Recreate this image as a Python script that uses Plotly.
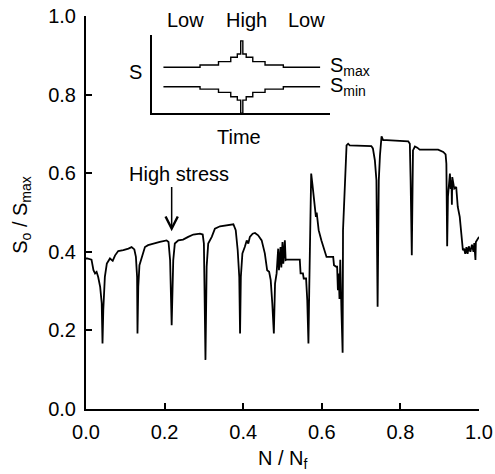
import plotly.graph_objects as go

# Main curve: fraction of life N/Nf vs normalized opening stress So/Smax
n_ratio = [0.000, 0.003, 0.014, 0.019, 0.023, 0.027, 0.031, 0.036, 0.040, 0.042, 0.044, 0.048, 0.053,
           0.061, 0.068, 0.074, 0.082, 0.095, 0.108, 0.116, 0.123, 0.127, 0.130, 0.131, 0.133, 0.136,
           0.140, 0.146, 0.150, 0.158, 0.171, 0.188, 0.205, 0.210, 0.214, 0.218, 0.222, 0.226, 0.235,
           0.247, 0.260, 0.273, 0.290, 0.297, 0.300, 0.304, 0.307, 0.311, 0.320, 0.328, 0.341, 0.358,
           0.375, 0.381, 0.386, 0.390, 0.392, 0.394, 0.398, 0.404, 0.409, 0.413, 0.417, 0.424, 0.430,
           0.438, 0.447, 0.455, 0.461, 0.466, 0.470, 0.474, 0.478, 0.481, 0.485, 0.489, 0.491, 0.495,
           0.497, 0.500, 0.502, 0.506, 0.508, 0.510, 0.544, 0.546, 0.552, 0.554, 0.560, 0.563, 0.566,
           0.568, 0.570, 0.573, 0.576, 0.580, 0.585, 0.587, 0.589, 0.592, 0.599, 0.612, 0.629, 0.631,
           0.637, 0.639, 0.641, 0.643, 0.645, 0.647, 0.650, 0.653, 0.654, 0.659, 0.663, 0.667, 0.671,
           0.726, 0.730, 0.735, 0.739, 0.742, 0.745, 0.748, 0.752, 0.756, 0.765, 0.820, 0.824, 0.826,
           0.829, 0.832, 0.837, 0.843, 0.849, 0.896, 0.909, 0.915, 0.917, 0.919, 0.921, 0.926, 0.928,
           0.930, 0.931, 0.932, 0.937, 0.942, 0.946, 0.951, 0.957, 0.959, 0.962, 0.965, 0.968, 0.971,
           0.974, 0.978, 0.982, 0.986, 0.988, 0.991, 0.992, 0.996, 1.000]
so_ratio = [0.383, 0.383, 0.380, 0.353, 0.345, 0.349, 0.336, 0.311, 0.269, 0.167, 0.252, 0.336, 0.370,
            0.383, 0.377, 0.391, 0.402, 0.404, 0.408, 0.412, 0.406, 0.387, 0.336, 0.192, 0.311, 0.366,
            0.379, 0.396, 0.412, 0.417, 0.421, 0.425, 0.429, 0.425, 0.379, 0.213, 0.379, 0.421, 0.429,
            0.431, 0.438, 0.444, 0.446, 0.444, 0.421, 0.125, 0.362, 0.421, 0.438, 0.459, 0.465, 0.468,
            0.470, 0.455, 0.404, 0.336, 0.192, 0.336, 0.396, 0.412, 0.429, 0.421, 0.438, 0.446, 0.448,
            0.442, 0.429, 0.396, 0.353, 0.349, 0.328, 0.269, 0.192, 0.319, 0.345, 0.408, 0.353, 0.412,
            0.360, 0.425, 0.370, 0.429, 0.379, 0.380, 0.380, 0.345, 0.345, 0.332, 0.332, 0.277, 0.167,
            0.300, 0.463, 0.599, 0.573, 0.531, 0.489, 0.500, 0.480, 0.455, 0.429, 0.387, 0.387, 0.366,
            0.362, 0.362, 0.302, 0.345, 0.280, 0.380, 0.250, 0.143, 0.455, 0.582, 0.671, 0.675, 0.671,
            0.669, 0.663, 0.633, 0.582, 0.260, 0.582, 0.645, 0.694, 0.684, 0.684, 0.681, 0.675, 0.582,
            0.391, 0.658, 0.668, 0.665, 0.660, 0.660, 0.654, 0.648, 0.624, 0.414, 0.540, 0.599, 0.560,
            0.582, 0.520, 0.590, 0.561, 0.565, 0.514, 0.489, 0.408, 0.404, 0.408, 0.395, 0.412, 0.395,
            0.414, 0.400, 0.418, 0.400, 0.422, 0.379, 0.425, 0.433, 0.438]

tick_vals = [0.0, 0.2, 0.4, 0.6, 0.8, 1.0]
tick_text = ["0.0", "0.2", "0.4", "0.6", "0.8", "1.0"]

# Inset schematic: block loading sequence Low-High-Low
inset_time = [0.062, 0.268, 0.372, 0.441, 0.478, 0.497, 0.509, 0.528, 0.565, 0.634, 0.737, 0.944]
inset_smax = [0.587, 0.617, 0.660, 0.715, 0.757, 0.923, 0.757, 0.715, 0.660, 0.617, 0.587, 0.587]
inset_smin = [0.340, 0.310, 0.268, 0.212, 0.170, 0.004, 0.170, 0.212, 0.268, 0.310, 0.340, 0.340]

FONT = "Liberation Sans, Arial, Helvetica, sans-serif"
FS = 20

fig = go.Figure()
fig.add_trace(go.Scatter(x=n_ratio, y=so_ratio, mode="lines",
                         line=dict(color="black", width=1.8), showlegend=False))
for s in (inset_smax, inset_smin):
    fig.add_trace(go.Scatter(x=inset_time, y=s, mode="lines", line_shape="hv",
                             line=dict(color="black", width=1.4), showlegend=False,
                             xaxis="x2", yaxis="y2"))

axis_common = dict(range=[0, 1], showgrid=False, zeroline=False, showline=True,
                   linecolor="black", linewidth=2, ticks="inside", ticklen=6, tickwidth=2,
                   tickcolor="black", tickvals=tick_vals, ticktext=tick_text, automargin=False,
                   ticklabeloverflow="allow",
                   tickfont=dict(family=FONT, size=FS, color="black"))

fig.update_layout(
    template="none",
    width=495, height=474,
    margin=dict(l=86, r=16, t=16, b=65),
    paper_bgcolor="white", plot_bgcolor="white",
    font=dict(family=FONT, size=FS, color="black"),
    xaxis=dict(**axis_common, ticklabelstandoff=4),
    yaxis=dict(**axis_common, ticklabelstandoff=4),
    xaxis2=dict(domain=[0.169, 0.621], anchor="y2", range=[0, 1], showgrid=False,
                zeroline=False, showline=True, linecolor="black", linewidth=1.5,
                showticklabels=False, ticks="", automargin=False),
    yaxis2=dict(domain=[0.752, 0.952], anchor="x2", range=[0, 1], showgrid=False,
                zeroline=False, showline=True, linecolor="black", linewidth=1.5,
                showticklabels=False, ticks="", automargin=False),
)

# axis titles
fig.add_annotation(text="N / N<sub>f</sub>", x=0.5, y=-0.092, xref="paper", yref="paper",
                   showarrow=False, xanchor="center", yanchor="top",
                   font=dict(family=FONT, size=FS, color="black"))
fig.add_annotation(text="S<sub>o</sub> / S<sub>max</sub>", x=-0.163, y=0.494,
                   xref="paper", yref="paper", textangle=-90,
                   showarrow=False, xanchor="center", yanchor="middle",
                   font=dict(family=FONT, size=FS, color="black"))

inset_labels = [
    ("Low", 0.189, 1.19, "center"),
    ("High", 0.531, 1.19, "center"),
    ("Low", 0.869, 1.19, "center"),
    ("S", -0.097, 0.531, "center"),
    ("Time", 0.488, -0.30, "center"),
    ("S<sub>max</sub>", 0.990, 0.595, "left"),
    ("S<sub>min</sub>", 0.990, 0.340, "left"),
]
for txt, tx, ty, anc in inset_labels:
    fig.add_annotation(text=txt, x=tx, y=ty, xref="x2 domain", yref="y2 domain", showarrow=False,
                       xanchor=anc, yanchor="middle",
                       font=dict(family=FONT, size=FS, color="black"))

fig.add_annotation(text="High stress", x=0.237, y=0.597, xref="x", yref="y",
                   showarrow=False, xanchor="center", yanchor="middle",
                   font=dict(family=FONT, size=FS, color="black"))
fig.add_annotation(text="", x=0.218, y=0.452, xref="x", yref="y",
                   ax=0.218, ay=0.569, axref="x", ayref="y",
                   showarrow=True, arrowhead=5, arrowsize=1.6, arrowwidth=1.5,
                   arrowcolor="black")

# remove the browser's default 8px body margin so the 495x474 figure fills the window exactly
fig.write_html("out.html", config={"displayModeBar": False},
               post_script="document.body.style.margin='0';document.body.style.overflow='hidden';")
